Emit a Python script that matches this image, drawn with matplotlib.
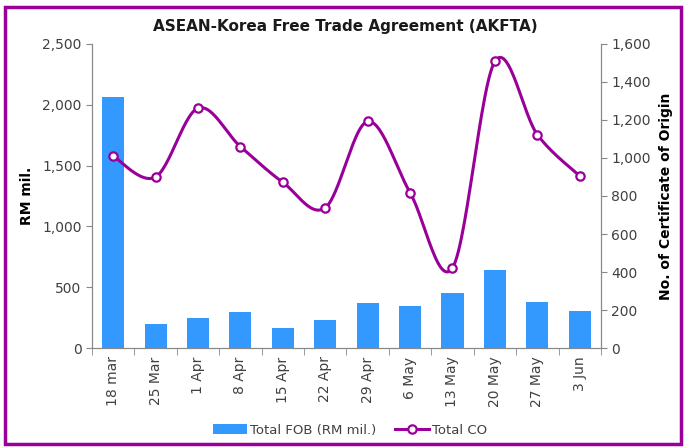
import numpy as np
import matplotlib.pyplot as plt
from matplotlib.patches import Rectangle
from matplotlib.ticker import FuncFormatter

plt.rcParams['font.family'] = ['DejaVu Sans']

# Data
weeks = ['18 mar', '25 Mar', '1 Apr', '8 Apr', '15 Apr', '22 Apr',
         '29 Apr', '6 May', '13 May', '20 May', '27 May', '3 Jun']
total_fob = [2060, 200, 245, 295, 162, 228, 370, 345, 455, 640, 378, 302]
total_co = [1010, 900, 1262, 1060, 872, 738, 1192, 818, 422, 1508, 1123, 905]

bar_color = '#3399FF'
line_color = '#990099'
text_color = '#404040'


def smooth(x, y, n=30):
    # Excel-style smoothed line (bezier through the points)
    x = np.asarray(x, float)
    y = np.asarray(y, float)
    xs, ys = [], []
    for i in range(len(x) - 1):
        p0 = np.array([x[max(i - 1, 0)], y[max(i - 1, 0)]])
        p1 = np.array([x[i], y[i]])
        p2 = np.array([x[i + 1], y[i + 1]])
        p3 = np.array([x[min(i + 2, len(x) - 1)], y[min(i + 2, len(x) - 1)]])
        c1 = p1 + (p2 - p0) / 6
        c2 = p2 - (p3 - p1) / 6
        t = np.linspace(0, 1, n)[:, None]
        pts = ((1 - t) ** 3) * p1 + 3 * ((1 - t) ** 2) * t * c1 + 3 * (1 - t) * t ** 2 * c2 + t ** 3 * p2
        xs.extend(pts[:, 0])
        ys.extend(pts[:, 1])
    return np.array(xs), np.array(ys)


fig = plt.figure(figsize=(6.86, 4.48), dpi=100)
ax = fig.add_axes([0.134, 0.223, 0.742, 0.679])
ax2 = ax.twinx()

x = np.arange(len(weeks))
ax.bar(x, total_fob, width=0.52, color=bar_color, label='Total FOB (RM mil.)', zorder=2)
ax.set_xlim(-0.5, len(weeks) - 0.5)
ax.set_ylim(0, 2500)
ax.set_yticks(np.arange(0, 2501, 500))
ax.yaxis.set_major_formatter(FuncFormatter(lambda v, p: f'{int(v):,}'))

sx, sy = smooth(x, total_co)
ax2.plot(sx, sy, color=line_color, lw=2.2, zorder=3)
ax2.plot(x, total_co, 'o', color=line_color, mfc='white', mec=line_color,
         ms=6, mew=1.6, zorder=4)
ax2.plot([], [], '-o', color=line_color, mfc='white', mec=line_color, ms=6,
         mew=1.6, lw=2.2, label='Total CO')
ax2.set_ylim(0, 1600)
ax2.set_yticks(np.arange(0, 1601, 200))
ax2.yaxis.set_major_formatter(FuncFormatter(lambda v, p: f'{int(v):,}'))

ax.set_xticks(x)
ax.set_xticklabels(weeks, rotation=90, fontsize=10, color=text_color)
ax.set_xticks(np.arange(-0.5, len(weeks)), minor=True)
ax.tick_params(axis='x', which='major', length=0, pad=6)
ax.tick_params(axis='x', which='minor', length=5, color='#888888', direction='out')

for a in (ax, ax2):
    for s in a.spines.values():
        s.set_color('#888888')
    a.spines['top'].set_visible(False)
    a.tick_params(axis='y', labelsize=10, colors=text_color, length=4, direction='out')
    a.tick_params(axis='y', color='#888888')

ax.set_ylabel('RM mil.', fontsize=10, fontweight='bold', labelpad=6)
ax2.set_ylabel('No. of Certificate of Origin', fontsize=10, fontweight='bold', labelpad=6)

fig.text(0.503, 0.94, 'ASEAN-Korea Free Trade Agreement (AKFTA)', ha='center',
         va='center', fontsize=11, fontweight='bold', color='#1a1a1a')

h1, l1 = ax.get_legend_handles_labels()
h2, l2 = ax2.get_legend_handles_labels()
fig.legend(h1 + h2, l1 + l2, loc='center', bbox_to_anchor=(0.51, 0.04), ncol=2,
           frameon=False, fontsize=9.5, handlelength=2.6, columnspacing=1.4,
           handletextpad=0.2, labelcolor=text_color)

fig.patches.append(Rectangle((0.008, 0.01), 0.984, 0.975, transform=fig.transFigure,
                             fill=False, edgecolor=line_color, lw=2.5))

fig.savefig('out.png', dpi=100)
